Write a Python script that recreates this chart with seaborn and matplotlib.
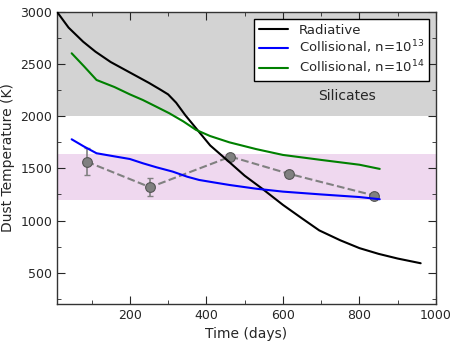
import matplotlib
matplotlib.use("Agg")
import matplotlib.pyplot as plt
import seaborn as sns
import pandas as pd
import numpy as np
from matplotlib.ticker import MultipleLocator

sns.set_style("ticks")
plt.rcParams['font.family'] = ['DejaVu Sans']

rad_t = [10, 40, 78, 110, 150, 200, 250, 280, 300, 321, 345, 373, 410, 460, 500, 546, 600, 650, 695, 750, 800, 850, 900, 960]
rad_T = [3000, 2850, 2715, 2620, 2520, 2420, 2320, 2255, 2210, 2130, 2010, 1885, 1720, 1560, 1430, 1305, 1150, 1020, 905, 810, 735, 680, 635, 590]

c13_t = [48, 80, 113, 160, 200, 234, 270, 312, 350, 381, 420, 460, 530, 600, 700, 800, 853]
c13_T = [1779, 1710, 1645, 1615, 1590, 1549, 1510, 1469, 1420, 1389, 1365, 1341, 1305, 1277, 1250, 1225, 1204]

c14_t = [48, 80, 113, 160, 200, 234, 270, 303, 340, 373, 410, 460, 530, 600, 700, 800, 853]
c14_T = [2604, 2480, 2348, 2280, 2210, 2156, 2090, 2029, 1950, 1869, 1810, 1750, 1685, 1629, 1581, 1535, 1495]

obs_t = [87, 253, 463, 617, 839]
obs_T = [1565, 1319, 1613, 1447, 1239]
obs_err = [130, 85, 0, 0, 0]

fig = plt.figure(figsize=(4.57, 3.43), dpi=100)
ax = fig.add_axes([0.125, 0.114, 0.829, 0.851])

ax.axhspan(2000, 3000, color='#d3d3d3', lw=0, zorder=0)
ax.axhspan(1200, 1640, color='#efd8ef', lw=0, zorder=0)

ax.errorbar(obs_t, obs_T, yerr=obs_err, fmt='none', ecolor='gray', elinewidth=1.2,
            capsize=2.5, capthick=1.0, zorder=1)
sns.lineplot(x=obs_t, y=obs_T, ax=ax, color='gray', lw=1.5, linestyle='--', marker='o',
             markersize=7, markerfacecolor='gray', markeredgecolor='#555555', markeredgewidth=0.8, zorder=1.5)

sns.lineplot(x=rad_t, y=rad_T, ax=ax, color='black', lw=1.5, label='Radiative', sort=False, zorder=3)
sns.lineplot(x=c13_t, y=c13_T, ax=ax, color='blue', lw=1.5, label='Collisional, n=10$^{13}$', sort=False, zorder=3)
sns.lineplot(x=c14_t, y=c14_T, ax=ax, color='green', lw=1.5, label='Collisional, n=10$^{14}$', sort=False, zorder=3)

ax.text(768, 2190, 'Silicates', ha='center', va='center', fontsize=10)

ax.set_xlim(10, 1000)
ax.set_ylim(200, 3000)
ax.set_xticks([200, 400, 600, 800, 1000])
ax.set_yticks([500, 1000, 1500, 2000, 2500, 3000])
ax.xaxis.set_minor_locator(MultipleLocator(100))
ax.yaxis.set_minor_locator(MultipleLocator(250))
ax.tick_params(which='both', direction='in', top=True, right=True, labelsize=9)
ax.tick_params(which='major', length=6)
ax.tick_params(which='minor', length=3)
for s in ax.spines.values():
    s.set_linewidth(1.0)
    s.set_color('#333333')

ax.set_xlabel('Time (days)', fontsize=10)
ax.set_ylabel('Dust Temperature (K)', fontsize=10)

h, l = ax.get_legend_handles_labels()
leg = ax.legend(h[-3:], l[-3:], loc='upper right', fontsize=9.5, frameon=True, fancybox=False,
                edgecolor='black', framealpha=1, borderaxespad=0.5,
                labelspacing=0.15, borderpad=0.4, handlelength=2.2)
leg.get_frame().set_linewidth(1.0)
leg.set_zorder(5)

fig.savefig('out.png', dpi=100)
